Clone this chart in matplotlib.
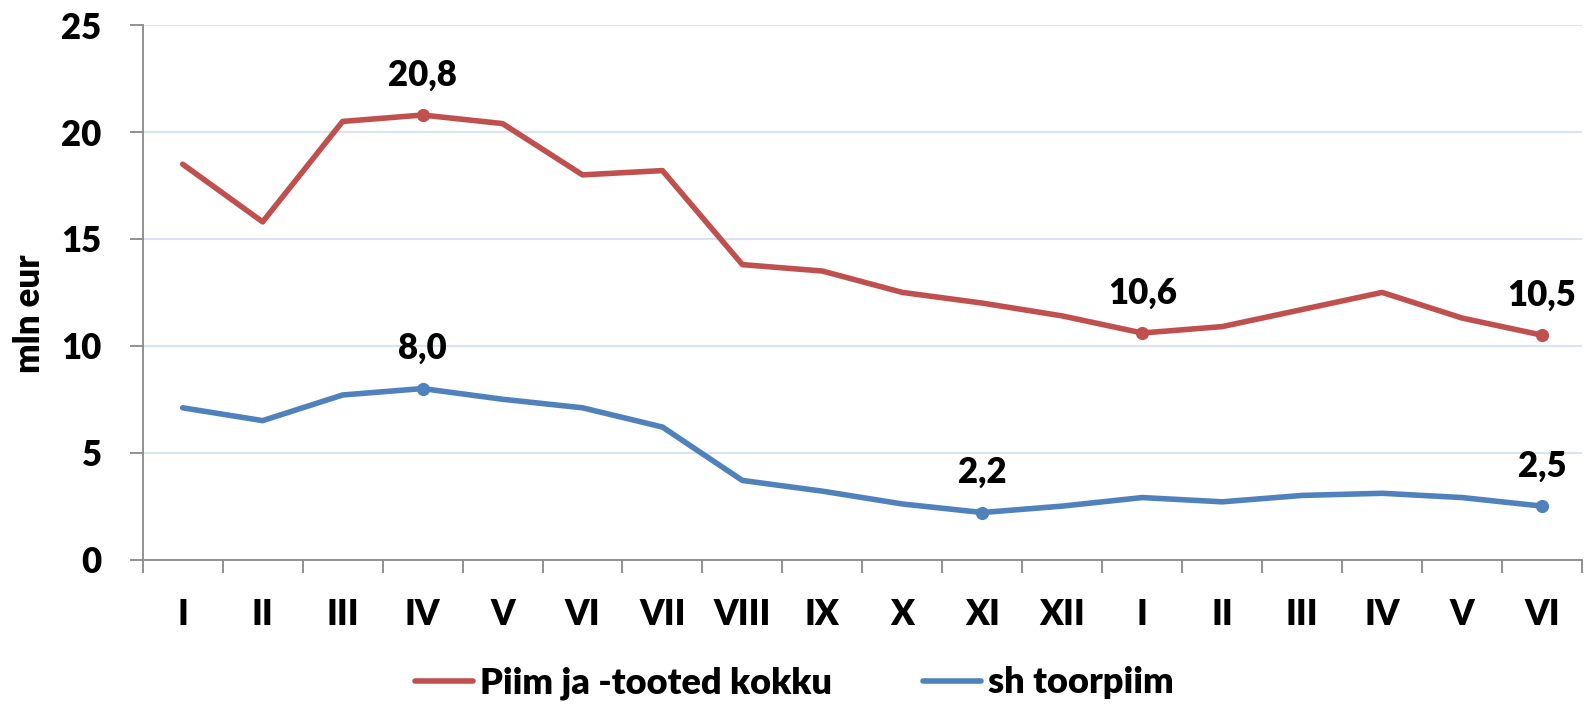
import matplotlib
matplotlib.use("Agg")
import matplotlib.pyplot as plt
from matplotlib.ticker import FixedLocator, NullFormatter

plt.rcParams['font.family'] = ['Lato', 'DejaVu Sans']
W = 'heavy'
plt.rcParams['font.weight'] = W

months = ["I", "II", "III", "IV", "V", "VI", "VII", "VIII", "IX", "X", "XI", "XII",
          "I", "II", "III", "IV", "V", "VI"]
piim_kokku = [18.5, 15.8, 20.5, 20.8, 20.4, 18.0, 18.2, 13.8, 13.5, 12.5, 12.0, 11.4,
              10.6, 10.9, 11.7, 12.5, 11.3, 10.5]
toorpiim = [7.1, 6.5, 7.7, 8.0, 7.5, 7.1, 6.2, 3.7, 3.2, 2.6, 2.2, 2.5,
            2.9, 2.7, 3.0, 3.1, 2.9, 2.5]
red_labels = [3, 12, 17]
blue_labels = [3, 10, 17]
series_names = ["Piim ja -tooted kokku", "sh toorpiim"]

RED = "#C0504D"
BLUE = "#4F81BD"
FS = 25

fig = plt.figure(figsize=(15.89, 7.08), dpi=100)
ax = fig.add_axes([0.0898, 0.2097, 0.9058, 0.7546])

x = list(range(len(months)))
ax.plot(x, piim_kokku, color=RED, lw=4, label=series_names[0], solid_capstyle='round')
ax.plot(x, toorpiim, color=BLUE, lw=4, label=series_names[1], solid_capstyle='round')
ax.plot([x[i] for i in red_labels], [piim_kokku[i] for i in red_labels], 'o', color=RED, ms=8.5)
ax.plot([x[i] for i in blue_labels], [toorpiim[i] for i in blue_labels], 'o', color=BLUE, ms=8.5)

for i in red_labels:
    ax.annotate(f"{piim_kokku[i]:.1f}".replace('.', ','), (x[i], piim_kokku[i]),
                xytext=(0, 17), textcoords='offset points', ha='center', va='bottom',
                fontsize=FS, fontweight=W)
for i in blue_labels:
    ax.annotate(f"{toorpiim[i]:.1f}".replace('.', ','), (x[i], toorpiim[i]),
                xytext=(0, 17), textcoords='offset points', ha='center', va='bottom',
                fontsize=FS, fontweight=W)

ax.set_xlim(-0.5, len(months) - 0.5)
ax.set_ylim(0, 25)
ax.set_yticks([0, 5, 10, 15, 20, 25])
ax.set_yticklabels(["0", "5", "10", "15", "20", "25"], fontsize=FS, fontweight=W)
ax.set_xticks(x)
ax.set_xticklabels(months, fontsize=FS, fontweight=W)
ax.xaxis.set_minor_locator(FixedLocator([i - 0.5 for i in range(len(months) + 1)]))
ax.xaxis.set_minor_formatter(NullFormatter())
ax.tick_params(axis='x', which='major', length=0, pad=28)
ax.tick_params(axis='x', which='minor', length=9.5, width=1.3, color='#898989')
ax.tick_params(axis='y', length=9.5, width=1.3, color='#898989', pad=20)

ax.grid(axis='y', color='#D9E4F1', lw=1.5)
ax.set_axisbelow(True)
for s in ['top', 'right']:
    ax.spines[s].set_visible(False)
for s in ['left', 'bottom']:
    ax.spines[s].set_color('#898989')
    ax.spines[s].set_linewidth(1.3)

ax.set_ylabel("mln eur", fontsize=25, fontweight=W)
ax.yaxis.set_label_coords(-0.067, 0.46)

leg = fig.legend(loc='center', bbox_to_anchor=(0.5, 0.035), ncol=2, frameon=False,
                 handlelength=1.6, columnspacing=2.5, handletextpad=0.2,
                 prop={'weight': W, 'size': 26})

fig.savefig("out.png", dpi=100)
